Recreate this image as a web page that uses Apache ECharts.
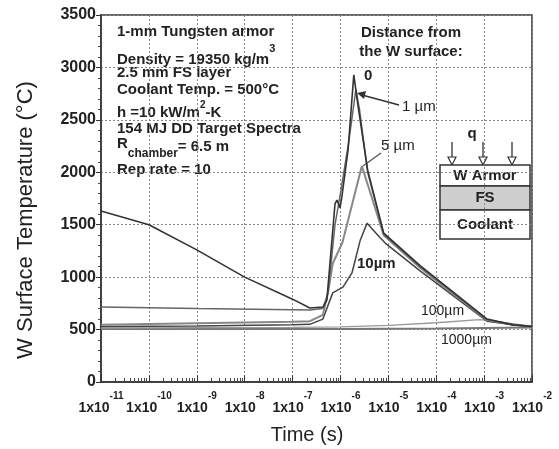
<!DOCTYPE html>
<html>
<head>
<meta charset="utf-8">
<script src="https://cdn.jsdelivr.net/npm/echarts@6/dist/echarts.min.js"></script>
<style>
html, body { margin: 0; padding: 0; background: #fff; }
#main { width: 559px; height: 449px; }
</style>
</head>
<body>
<div id="main"></div>
<script>
// time (s) / temperature (°C), one pair of arrays per depth
var t0 = [1e-11, 1e-10, 1e-9, 1e-8, 1e-7, 2.3e-7, 4.3e-7, 5.2e-7, 7.7e-7, 8.5e-7, 9.8e-7, 1.07e-6, 1.44e-6, 1.9e-6, 2.3e-6, 3.7e-6, 8.0e-6, 4.6e-5, 1.15e-3, 4e-3, 1e-2];
var T0 = [1630, 1500, 1260, 1000, 790, 705, 715, 780, 1700, 1735, 1660, 1765, 2210, 2930, 2650, 2020, 1420, 1110, 600, 545, 530];

var t1 = [1e-11, 1e-9, 1e-7, 2.3e-7, 4.3e-7, 5.5e-7, 7.7e-7, 1.0e-6, 1.5e-6, 2.1e-6, 2.5e-6, 3.7e-6, 8.0e-6, 4.6e-5, 1.15e-3, 4e-3, 1e-2];
var T1 = [715, 700, 690, 686, 700, 850, 1500, 1800, 2300, 2790, 2600, 2000, 1410, 1100, 595, 545, 530];

var t5 = [1e-11, 1e-9, 1e-7, 2.3e-7, 4.3e-7, 5.5e-7, 6.9e-7, 9.8e-7, 1.1e-6, 2.8e-6, 8.0e-6, 4.6e-5, 1.15e-3, 4e-3, 1e-2];
var T5 = [545, 560, 575, 580, 640, 850, 1130, 1280, 1330, 2060, 1400, 1090, 590, 545, 530];

var t10 = [1e-11, 1e-9, 1e-7, 2.3e-7, 4.3e-7, 6.9e-7, 1.13e-6, 1.74e-6, 2.6e-6, 3.6e-6, 6.6e-6, 8.6e-6, 4.6e-5, 1.15e-3, 4e-3, 1e-2];
var T10 = [530, 535, 545, 550, 600, 850, 905, 1040, 1355, 1515, 1380, 1325, 1060, 580, 545, 530];

var t100 = [1e-11, 1e-7, 1e-6, 1e-5, 1e-4, 8e-4, 2e-3, 1e-2];
var T100 = [515, 520, 525, 540, 565, 595, 575, 530];

var t1000 = [1e-11, 1e-6, 1e-4, 1e-3, 1e-2];
var T1000 = [505, 505, 510, 515, 520];

var FONT = "'Liberation Sans', Arial, sans-serif";

function pairs(t, T) {
  return t.map(function (v, i) { return [v, T[i]]; });
}

function line(name, t, T, color, width) {
  return {
    name: name,
    type: "line",
    data: pairs(t, T),
    symbol: "none",
    lineStyle: { color: color, width: width },
    animation: false
  };
}

function txt(x, y, text, size, weight, align) {
  return {
    type: "text",
    x: x,
    y: y,
    style: {
      text: text,
      font: (weight || "bold") + " " + (size || 15) + "px " + FONT,
      fill: "#222",
      align: align || "left",
      verticalAlign: "middle"
    }
  };
}

var ctx = document.createElement("canvas").getContext("2d");
function textWidth(text, size, weight) {
  ctx.font = (weight || "bold") + " " + size + "px " + FONT;
  return ctx.measureText(text).width;
}

// rich text token styles (base text sits at the bottom, exponents at the top)
function tok(size, weight, va, lh, pad) {
  var s = { font: weight + " " + size + "px " + FONT, fontFamily: FONT, fontSize: size, fontWeight: weight,
            fill: "#222", color: "#222", verticalAlign: va };
  if (lh) s.lineHeight = lh;
  if (pad) s.padding = pad;
  return s;
}

var rW = textWidth("R", 15);
var chW = textWidth("chamber", 12);

var chart = echarts.init(document.getElementById("main"));
chart.setOption({
  animation: false,
  grid: {
    left: 101, right: 27, top: 15, bottom: 67,
    show: true, borderColor: "#333", borderWidth: 1.5
  },
  xAxis: {
    type: "log",
    logBase: 10,
    min: 1e-11,
    max: 1e-2,
    axisLine: { lineStyle: { color: "#333", width: 1.5 } },
    axisTick: { inside: true, length: 7, lineStyle: { color: "#333" } },
    minorTick: { show: true, splitNumber: 9, length: 4, lineStyle: { color: "#444" } },
    splitLine: { show: true, lineStyle: { color: "#888", width: 1, type: [2, 2] } },
    axisLabel: {
      margin: 9,
      formatter: function (v) {
        return "{a|1x10}{b|" + Math.round(Math.log10(v)) + "}";
      },
      rich: {
        a: tok(14, "bold", "bottom", 24),
        b: tok(10, "bold", "top")
      }
    }
  },
  yAxis: {
    type: "value",
    min: 0,
    max: 3500,
    interval: 500,
    axisLine: { show: true, lineStyle: { color: "#333", width: 1.5 } },
    axisTick: { show: true, length: 5, lineStyle: { color: "#333" } },
    minorTick: { show: true, splitNumber: 5, length: 3, lineStyle: { color: "#444" } },
    splitLine: { show: true, lineStyle: { color: "#888", width: 1, type: [2, 2] } },
    axisLabel: {
      margin: 5, fontFamily: FONT, fontSize: 16, fontWeight: "bold", color: "#222",
      formatter: function (v) { return String(v); }
    }
  },
  series: [
    line("1000µm", t1000, T1000, "#777", 2),
    line("100µm", t100, T100, "#999", 1.3),
    line("10µm", t10, T10, "#444", 1.5),
    line("5µm", t5, T5, "#888", 2),
    line("1µm", t1, T1, "#666", 1.5),
    line("0", t0, T0, "#333", 1.6)
  ],
  graphic: [
    { type: "text", x: 26, y: 220, rotation: Math.PI / 2,
      style: { text: "W Surface Temperature (°C)", font: "22px " + FONT, fill: "#222", align: "center", verticalAlign: "middle" } },
    { type: "text", x: 307, y: 435,
      style: { text: "Time (s)", font: "20px " + FONT, fill: "#222", align: "center", verticalAlign: "middle" } },

    txt(117, 32, "1-mm Tungsten armor"),
    { type: "text", x: 117, y: 43,
      style: { text: "{n|Density = 19350 kg/m}{s|3}", verticalAlign: "top",
        rich: { n: tok(15, "bold", "bottom", 24), s: tok(11, "bold", "top") } } },
    txt(117, 73, "2.5 mm FS layer"),
    txt(117, 90, "Coolant Temp. = 500°C"),
    { type: "text", x: 117, y: 100,
      style: { text: "{n|h =10 kW/m}{s|2}{n|-K}", verticalAlign: "top",
        rich: { n: tok(15, "bold", "bottom", 20), s: tok(10, "bold", "top") } } },
    txt(117, 129, "154 MJ DD Target Spectra"),
    txt(117, 144, "R"),
    txt(117 + rW, 154, "chamber", 12),
    txt(117 + rW + chW, 147, "= 6.5 m"),
    txt(117, 170, "Rep rate = 10"),

    txt(411, 33, "Distance from", 15, "bold", "center"),
    txt(411, 52, "the W surface:", 15, "bold", "center"),

    txt(364, 76, "0", 15, "bold"),
    txt(402, 107, "1 µm", 15, "normal"),
    txt(381, 146, "5 µm", 15, "normal"),
    txt(357, 264, "10µm", 15, "bold"),
    txt(421, 311, "100µm", 14, "normal"),
    txt(441, 340, "1000µm", 14, "normal"),

    { type: "line", shape: { x1: 399, y1: 105, x2: 362, y2: 95 }, style: { stroke: "#333", lineWidth: 1.5 } },
    { type: "polygon", shape: { points: [[357, 93], [366, 91], [364, 99]] }, style: { fill: "#333" } },
    { type: "line", shape: { x1: 381, y1: 153, x2: 363, y2: 166 }, style: { stroke: "#555", lineWidth: 1.3 } },

    txt(472, 134, "q", 15, "bold", "center"),
    { type: "line", shape: { x1: 452, y1: 142, x2: 452, y2: 160 }, style: { stroke: "#333", lineWidth: 1.3 } },
    { type: "line", shape: { x1: 483, y1: 142, x2: 483, y2: 160 }, style: { stroke: "#333", lineWidth: 1.3 } },
    { type: "line", shape: { x1: 512, y1: 142, x2: 512, y2: 160 }, style: { stroke: "#333", lineWidth: 1.3 } },
    { type: "polygon", shape: { points: [[448, 157], [456, 157], [452, 165]] }, style: { fill: "#fff", stroke: "#333", lineWidth: 1.2 } },
    { type: "polygon", shape: { points: [[479, 157], [487, 157], [483, 165]] }, style: { fill: "#fff", stroke: "#333", lineWidth: 1.2 } },
    { type: "polygon", shape: { points: [[508, 157], [516, 157], [512, 165]] }, style: { fill: "#fff", stroke: "#333", lineWidth: 1.2 } },
    { type: "rect", shape: { x: 440, y: 165, width: 90, height: 21 }, style: { fill: "#fff", stroke: "#333", lineWidth: 1.5 } },
    { type: "rect", shape: { x: 440, y: 186, width: 90, height: 24 }, style: { fill: "#cfcfcf", stroke: "#333", lineWidth: 1.5 } },
    { type: "rect", shape: { x: 440, y: 210, width: 90, height: 29 }, style: { fill: "#fff", stroke: "#333", lineWidth: 1.5 } },
    txt(485, 176, "W Armor", 15, "bold", "center"),
    txt(485, 198, "FS", 15, "bold", "center"),
    txt(485, 225, "Coolant", 15, "bold", "center")
  ]
});
</script>
</body>
</html>
